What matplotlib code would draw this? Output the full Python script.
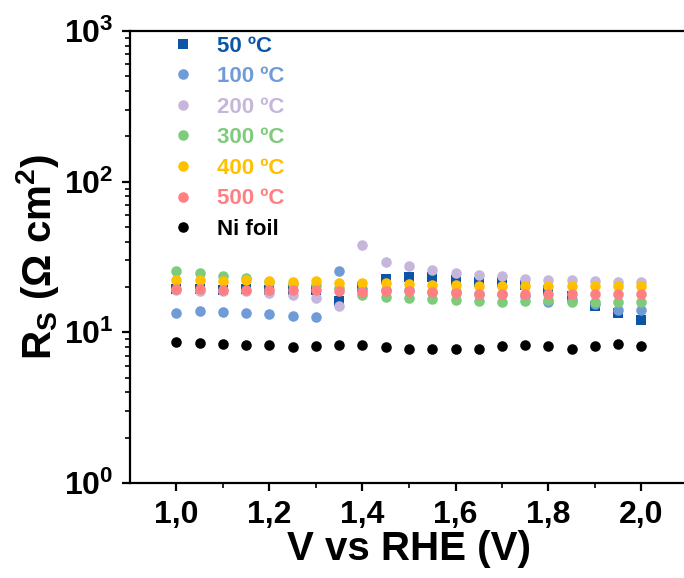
import numpy as np
import matplotlib
matplotlib.use('Agg')
import matplotlib.pyplot as plt
from matplotlib.ticker import FixedLocator, LogLocator, NullFormatter

plt.rcParams['font.family'] = ['Liberation Sans', 'DejaVu Sans']
plt.rcParams['font.weight'] = 'bold'
plt.rcParams['mathtext.fontset'] = 'custom'
plt.rcParams['mathtext.rm'] = 'Liberation Sans:bold'
plt.rcParams['mathtext.it'] = 'Liberation Sans:bold'
plt.rcParams['mathtext.bf'] = 'Liberation Sans:bold'
plt.rcParams['mathtext.default'] = 'regular'

# potential (V vs RHE)
v = [1.00, 1.05, 1.10, 1.15, 1.20, 1.25, 1.30, 1.35, 1.40, 1.45, 1.50,
     1.55, 1.60, 1.65, 1.70, 1.75, 1.80, 1.85, 1.90, 1.95, 2.00]

# series resistance (Ohm cm2)
rs_50 = [19.5, 19.3, 19.2, 19.5, 19.2, 19.0, 19.0, 16.1, 20.0, 22.7, 23.3,
         23.3, 22.4, 21.6, 21.6, 20.5, 19.0, 17.5, 15.0, 13.5, 12.0]
rs_100 = [13.4, 13.8, 13.7, 13.4, 13.2, 12.8, 12.7, 25.5, 19.5, 19.0, 19.0,
          18.5, 18.5, 18.0, 18.0, 17.5, 16.0, 16.3, 15.5, 14.0, 14.0]
rs_200 = [19.2, 18.9, 18.8, 18.7, 18.3, 17.6, 17.0, 14.9, 37.8, 29.3, 27.4,
          26.1, 24.8, 23.9, 23.5, 22.7, 22.4, 22.1, 22.0, 21.6, 21.6]
rs_300 = [25.5, 24.7, 23.8, 22.9, 21.6, 21.0, 20.5, 19.8, 17.8, 17.2, 17.0,
          16.6, 16.3, 16.1, 16.0, 16.1, 16.5, 15.9, 15.9, 15.9, 15.9]
rs_400 = [22.1, 22.1, 21.9, 22.1, 21.8, 21.6, 21.8, 21.2, 21.2, 21.2, 21.0,
          20.7, 20.5, 20.2, 20.2, 20.2, 20.2, 20.2, 20.2, 20.2, 20.2]
rs_500 = [19.4, 19.3, 19.2, 19.2, 19.2, 19.0, 19.0, 18.9, 18.6, 18.9, 18.7,
          18.4, 18.2, 18.1, 18.1, 18.1, 18.1, 18.1, 18.1, 18.1, 18.1]
rs_ni = [8.6, 8.5, 8.4, 8.3, 8.2, 8.0, 8.1, 8.2, 8.3, 8.0, 7.8,
         7.8, 7.8, 7.7, 8.1, 8.3, 8.1, 7.8, 8.1, 8.4, 8.1]

labels = ['50 \u00baC', '100 \u00baC', '200 \u00baC', '300 \u00baC',
          '400 \u00baC', '500 \u00baC', 'Ni foil']
colors = ['#0B54A6', '#6F9BD6', '#C6B6DB', '#7ECB7B', '#FFC000', '#FF7F82', '#000000']
markers = ['s', 'o', 'o', 'o', 'o', 'o', 'o']
series = [rs_50, rs_100, rs_200, rs_300, rs_400, rs_500, rs_ni]

x_ticks = [1.0, 1.2, 1.4, 1.6, 1.8, 2.0]
x_labels = ['1,0', '1,2', '1,4', '1,6', '1,8', '2,0']

fig = plt.figure(figsize=(6.84, 5.78), dpi=100)
ax = fig.add_axes([130 / 684, 1 - 483 / 578, 558 / 684, 452 / 578])

for y, c, m, lab in zip(series, colors, markers, labels):
    ms = 6.8 if m == 's' else 7.6
    ax.plot(v, y, linestyle='none', marker=m, markersize=ms, color=c,
            markeredgewidth=0, label=lab)

ax.set_yscale('log')
ax.set_ylim(1, 1000)
ax.set_xlim(0.9, 2.1)
ax.xaxis.set_major_locator(FixedLocator(x_ticks))
ax.set_xticklabels(x_labels)
ax.xaxis.set_minor_locator(FixedLocator([1.1, 1.3, 1.5, 1.7, 1.9]))
ax.yaxis.set_minor_locator(LogLocator(base=10, subs=np.arange(2, 10)))
ax.yaxis.set_minor_formatter(NullFormatter())

for s in ax.spines.values():
    s.set_linewidth(1.6)
ax.tick_params(which='major', direction='out', length=6, width=1.6,
               labelsize=23, pad=6)
ax.tick_params(which='minor', direction='out', length=3.5, width=1.2)

ax.set_xlabel('V vs RHE (V)', fontsize=29, fontweight='bold', labelpad=0)
ax.set_ylabel('R$_S$ ($\\Omega$ cm$^2$)', fontsize=29, fontweight='bold', labelpad=2)

leg = ax.legend(loc='upper left', bbox_to_anchor=(0.075, 0.99), frameon=False,
                fontsize=16, handlelength=1.0, handletextpad=1.05,
                labelspacing=0.43, borderpad=0, borderaxespad=0)
for t, c in zip(leg.get_texts(), colors):
    t.set_color(c)
    t.set_fontweight('bold')

fig.savefig('out.png', dpi=100)
